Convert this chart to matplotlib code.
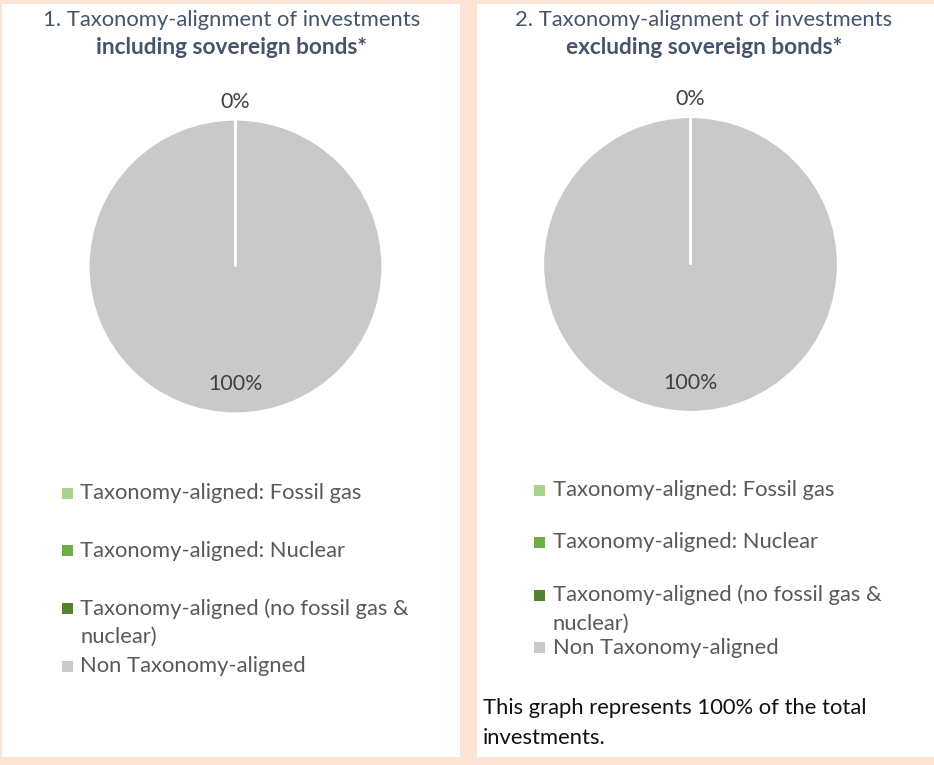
import matplotlib
matplotlib.use("Agg")
import numpy as np
import matplotlib.pyplot as plt
from matplotlib.patches import Rectangle

# data
categories = ["Taxonomy-aligned: Fossil gas",
              "Taxonomy-aligned: Nuclear",
              "Taxonomy-aligned (no fossil gas &\nnuclear)",
              "Non Taxonomy-aligned"]
colors = ["#A9D18E", "#70AD47", "#548235", "#C9C9C9"]
incl_values = [0, 0, 0, 100]
excl_values = [0, 0, 0, 100]
titles = [("1. Taxonomy-alignment of investments", "including sovereign bonds*"),
          ("2. Taxonomy-alignment of investments", "excluding sovereign bonds*")]
footnote = "This graph represents 100% of the total\ninvestments."

W, H = 934, 765
PEACH = "#FBE4D6"
FONT = "Lato"
FS = 15.8

fig = plt.figure(figsize=(W / 100, H / 100), dpi=100)
fig.patch.set_facecolor(PEACH)


def fx(x):
    return x / W


def fy(y):
    return 1 - y / H


# white panels
for x0, x1 in [(2, 460), (477, 934)]:
    fig.add_artist(Rectangle((fx(x0), fy(757)), fx(x1 - x0), (757 - 4) / H,
                             transform=fig.transFigure, facecolor="white",
                             edgecolor="none", zorder=0))

panels = [
    dict(values=incl_values, title=titles[0], cx=235.5, cy=266.5, r=147,
         tx=231.5, mx=62, lx=80, ly=493, step=57.8),
    dict(values=excl_values, title=titles[1], cx=690.5, cy=264.5, r=147.5,
         tx=704, mx=534, lx=553, ly=490, step=52.5),
]

for p in panels:
    # titles
    fig.text(fx(p["tx"]), fy(20), p["title"][0], ha="center", va="center",
             fontsize=FS, color="#44546A", family=FONT)
    fig.text(fx(p["tx"]), fy(48), p["title"][1], ha="center", va="center",
             fontsize=16.3, color="#44546A", family=FONT, fontweight="bold")

    # pie
    r = p["r"]
    ax = fig.add_axes([fx(p["cx"] - r), fy(p["cy"] + r), 2 * r / W, 2 * r / H])
    wedges, _ = ax.pie(p["values"], colors=colors, startangle=90, counterclock=False,
                       wedgeprops=dict(edgecolor="white", linewidth=1.6))
    ax.set_xlim(-1, 1)
    ax.set_ylim(-1, 1)
    ax.axis("off")
    zero_done = False
    total = sum(p["values"])
    for w, v in zip(wedges, p["values"]):
        ang = np.deg2rad((w.theta1 + w.theta2) / 2)
        if v == 0:
            w.set_zorder(3)  # keep the zero-size slice border visible
            if zero_done:
                continue
            zero_done = True
            d = 1.12
        else:
            d = 0.8
        ax.text(d * np.cos(ang), d * np.sin(ang), f"{v / total * 100:.0f}%",
                ha="center", va="center", fontsize=15.4, color="#404040",
                family=FONT, zorder=4)

    # legend
    for i, (lab, c) in enumerate(zip(categories, colors)):
        y = p["ly"] + i * p["step"]
        fig.add_artist(Rectangle((fx(p["mx"]), fy(y + 5.5)), 11 / W, 11 / H,
                                 transform=fig.transFigure, facecolor=c,
                                 edgecolor="none"))
        for k, line in enumerate(lab.split("\n")):
            fig.text(fx(p["lx"]), fy(y + k * 28.5), line, ha="left", va="center",
                     fontsize=FS, color="#595959", family=FONT)

for k, line in enumerate(footnote.split("\n")):
    fig.text(fx(483), fy(708 + k * 29.5), line, ha="left", va="center",
             fontsize=FS, color="#111111", family=FONT)

fig.savefig("out.png", dpi=100, facecolor=PEACH)
